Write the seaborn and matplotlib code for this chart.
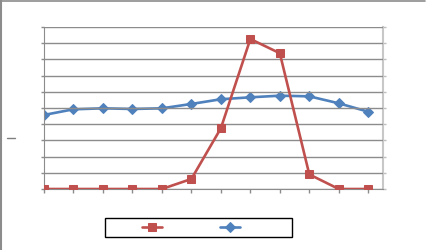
import matplotlib
matplotlib.use("Agg")
import matplotlib.pyplot as plt
from matplotlib.lines import Line2D
import seaborn as sns
import pandas as pd
import numpy as np

# Data (grid units, 10 gridline intervals)
categories = list(range(12))
red_values = [0, 0, 0, 0, 0, 0.62, 3.75, 9.26, 8.38, 0.9, 0, 0]
blue_values = [4.57, 4.92, 4.98, 4.94, 4.98, 5.25, 5.54, 5.66, 5.76, 5.72, 5.29, 4.77]

RED = "#C0504D"
BLUE = "#4F81BD"
GRID = "#8C8C8C"

sns.set_style("white")

fig = plt.figure(figsize=(4.27, 2.5), dpi=100)
ax = fig.add_axes([44 / 427, 1 - 189 / 250, (383 - 44) / 427, (189 - 27) / 250])
ax2 = ax.twinx()

df = pd.DataFrame({"cat": categories, "red": red_values, "blue": blue_values})

sns.lineplot(data=df, x="cat", y="red", ax=ax, color=RED, linewidth=1.9,
             marker="s", markersize=5.8, markeredgecolor=RED, label="\u00a0",
             legend=False, zorder=3)
sns.lineplot(data=df, x="cat", y="blue", ax=ax2, color=BLUE, linewidth=1.9,
             marker="D", markersize=5.0, markeredgecolor=BLUE, label="\u00a0",
             legend=False, zorder=3)

for a in (ax, ax2):
    a.set_xlim(0, 11.5)
    a.set_ylim(0, 10)
    a.set_yticks(np.arange(0, 11, 1))
    a.set_xlabel("")
    a.set_ylabel("")
    a.set_yticklabels([])
    a.set_xticklabels([])
    for s in a.spines.values():
        s.set_visible(False)

ax.set_xticks(categories)
ax.grid(axis="y", color=GRID, linewidth=1.0)
ax.grid(axis="x", visible=False)
ax.set_axisbelow(True)
ax.tick_params(axis="x", direction="out", length=3, color=GRID, width=1, bottom=True)
ax.tick_params(axis="y", direction="out", length=2, color=GRID, width=1, left=True)
ax2.tick_params(axis="y", direction="out", length=2, color="#BFBFBF", width=1, right=True)
ax2.tick_params(axis="x", bottom=False, top=False)

ax.spines["left"].set_visible(True)
ax.spines["left"].set_color(GRID)
ax.spines["bottom"].set_visible(True)
ax.spines["bottom"].set_color(GRID)
ax2.spines["right"].set_visible(True)
ax2.spines["right"].set_color("#C8C8C8")
ax2.spines["right"].set_linewidth(1.5)

ax.set_zorder(ax2.get_zorder() + 1)
ax.patch.set_visible(False)

# legend frame
fig.patches.append(plt.Rectangle((105 / 427, 1 - 237 / 250), (292 - 105) / 427, 19 / 250,
                                 transform=fig.transFigure, fill=False,
                                 edgecolor="black", linewidth=1.0))
# legend entries (labels empty)
h1, l1 = ax.get_legend_handles_labels()
h2, l2 = ax2.get_legend_handles_labels()
leg = fig.legend(h1 + h2, ["", ""], loc="center left",
                 bbox_to_anchor=(142 / 427, 1 - 227.5 / 250),
                 ncol=2, frameon=False, fontsize=8, borderpad=0, borderaxespad=0,
                 handlelength=1.8, handletextpad=0.0, columnspacing=5.2)

# small axis-title dash
fig.add_artist(Line2D([7 / 427, 15 / 427], [1 - 137.5 / 250, 1 - 137.5 / 250],
                      transform=fig.transFigure, color="#7F7F7F", linewidth=1.0))

# figure border (top and left edges)
fig.add_artist(Line2D([0, 425 / 427], [0.998, 0.998], transform=fig.transFigure,
                      color="#8C8C8C", linewidth=1.2))
fig.add_artist(Line2D([0.002, 0.002], [0, 1], transform=fig.transFigure,
                      color="#8C8C8C", linewidth=1.5))

fig.savefig("out.png", dpi=100)
